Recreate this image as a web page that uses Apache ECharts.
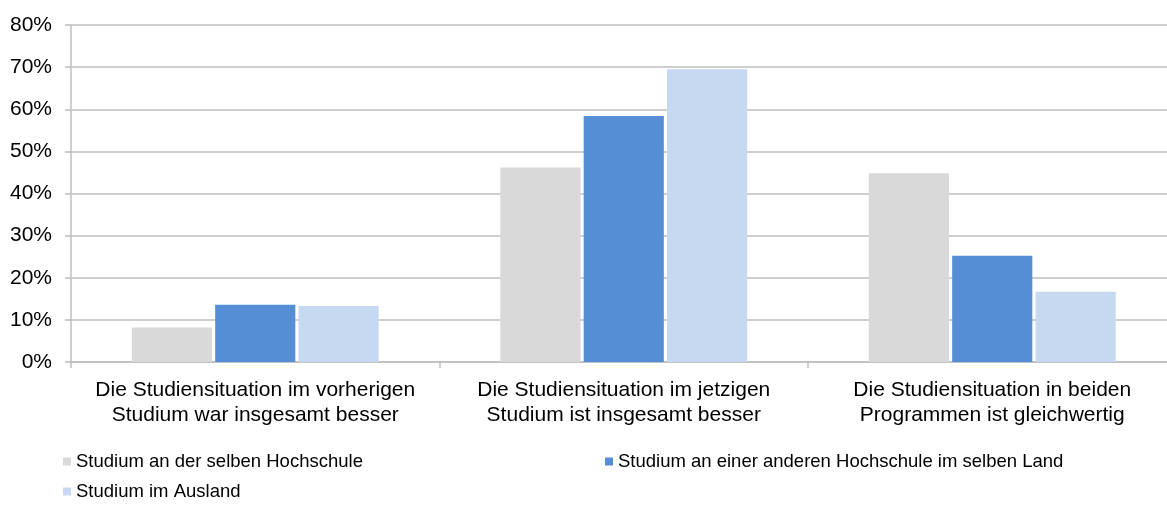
<!DOCTYPE html>
<html>
<head>
<meta charset="utf-8">
<script src="https://cdn.jsdelivr.net/npm/echarts@6/dist/echarts.min.js"></script>
<style>
html,body{margin:0;padding:0;background:#fff;overflow:hidden;width:1167px;height:509px;}
#chart{width:1177px;height:509px;}
</style>
</head>
<body>
<div id="chart"></div>
<script>
const categories = [
  "Die Studiensituation im vorherigen\nStudium war insgesamt besser",
  "Die Studiensituation im jetzigen\nStudium ist insgesamt besser",
  "Die Studiensituation in beiden\nProgrammen ist gleichwertig"
];
const seriesNames = [
  "Studium an der selben Hochschule",
  "Studium an einer anderen Hochschule im selben Land",
  "Studium im Ausland"
];
const sameUniversity = [8.2, 46.2, 44.8];
const otherUniversitySameCountry = [13.6, 58.4, 25.2];
const abroad = [13.3, 69.5, 16.7];
const yTicks = [0, 10, 20, 30, 40, 50, 60, 70, 80];

const colors = ['#d9d9d9', '#558ed5', '#c6d9f1'];
const values = [sameUniversity, otherUniversitySameCountry, abroad];
const FONT = '"Liberation Sans", Arial, sans-serif';

const chart = echarts.init(document.getElementById('chart'), null, {renderer: 'canvas'});

const legendPos = [
  {left: 63, top: 452},
  {left: 605, top: 452},
  {left: 63, top: 482}
];

chart.setOption({
  animation: false,
  backgroundColor: '#ffffff',
  grid: {left: 71, width: 1105.5, top: 25, height: 337, containLabel: false},
  legend: seriesNames.map((n, i) => ({
    data: [n],
    left: legendPos[i].left,
    top: legendPos[i].top,
    padding: 0,
    icon: 'rect',
    itemWidth: 8,
    itemHeight: 8,
    itemGap: 0,
    selectedMode: false,
    textStyle: {fontFamily: FONT, fontSize: 18.5, color: '#000'}
  })),
  xAxis: {
    type: 'category',
    data: categories,
    axisLine: {show: true, lineStyle: {color: '#bfbfbf', width: 1.5}},
    axisTick: {show: true, alignWithLabel: false, length: 6, lineStyle: {color: '#bfbfbf', width: 1.5}},
    axisLabel: {
      interval: 0, margin: 16, color: '#000',
      fontFamily: FONT, fontSize: 21, lineHeight: 25, align: 'center'
    },
    splitLine: {show: false}
  },
  yAxis: {
    type: 'value',
    min: yTicks[0],
    max: yTicks[yTicks.length - 1],
    interval: 10,
    axisLine: {show: true, lineStyle: {color: '#bfbfbf', width: 1.5}},
    axisTick: {show: true, length: 6, lineStyle: {color: '#bfbfbf', width: 1.5}},
    axisLabel: {
      margin: 19, color: '#000', fontFamily: FONT, fontSize: 21,
      formatter: v => v + '%'
    },
    splitLine: {show: true, lineStyle: {color: '#bfbfbf', width: 1.5}}
  },
  series: seriesNames.map((n, i) => ({
    name: n,
    type: 'bar',
    data: values[i],
    barGap: '4%',
    barCategoryGap: '33%',
    itemStyle: {color: colors[i]}
  }))
});
</script>
</body>
</html>
